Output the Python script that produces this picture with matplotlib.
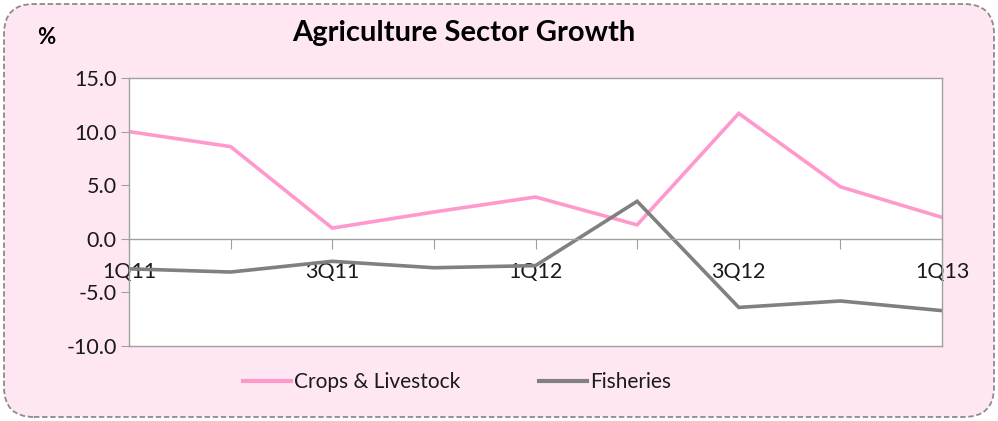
import matplotlib
matplotlib.use("Agg")
import matplotlib.pyplot as plt
from matplotlib.patches import FancyBboxPatch
from matplotlib.lines import Line2D

quarters = ["1Q11", "2Q11", "3Q11", "4Q11", "1Q12", "2Q12", "3Q12", "4Q12", "1Q13"]
tick_labels = ["1Q11", "", "3Q11", "", "1Q12", "", "3Q12", "", "1Q13"]
crops = [10.0, 8.6, 1.0, 2.5, 3.9, 1.3, 11.7, 4.85, 2.0]
fisheries = [-2.8, -3.1, -2.1, -2.7, -2.5, 3.5, -6.4, -5.8, -6.7]

plt.rcParams['font.family'] = ['Lato', 'DejaVu Sans']
W, H = 998, 421
fig = plt.figure(figsize=(W / 100, H / 100), dpi=100)
fig.patch.set_facecolor("white")

bg = FancyBboxPatch((4 / W, 4 / H), (W - 8) / W, (H - 8) / H,
                    boxstyle="round,pad=0,rounding_size=0.03",
                    transform=fig.transFigure, facecolor="#FEE7F3",
                    edgecolor="#8C8C8C", linestyle=(0, (3, 1.5)), linewidth=1.3,
                    mutation_aspect=W / H, zorder=-10)
fig.patches.append(bg)

ax = fig.add_axes([129 / W, 1 - 346 / H, (942 - 129) / W, (346 - 78) / H])
ax.set_zorder(5)
ax.set_facecolor("white")
for s in ax.spines.values():
    s.set_color("#A0A0A0")
    s.set_linewidth(1.0)
ax.spines["bottom"].set_position(("data", 0))

x = list(range(len(quarters)))
ax.plot(x, crops, color="#FF99CC", linewidth=2.6, solid_joinstyle="miter")
ax.plot(x, fisheries, color="#808080", linewidth=2.6, solid_joinstyle="miter")

ax.set_xlim(0, len(quarters) - 1)
ax.set_ylim(-10, 15)
ax.set_yticks([-10, -5, 0, 5, 10, 15])
ax.set_yticklabels([f"{v:.1f}" for v in [-10, -5, 0, 5, 10, 15]], fontsize=15.5, color="#1a1a1a")
ax.set_xticks(x)
ax.set_xticklabels(tick_labels, fontsize=15.5, color="#1a1a1a")

ax.tick_params(axis="y", direction="out", length=6, color="#A0A0A0", pad=3)
ax.tick_params(axis="x", direction="out", length=7, color="#A0A0A0", pad=10)

# bottom border of plot area
ax.axhline(-10, color="#A0A0A0", linewidth=1.0, clip_on=False)

fig.text(464 / W, 1 - 33 / H, "Agriculture Sector Growth", ha="center", va="center",
         fontsize=21, fontweight="bold", color="black")
fig.text(46 / W, 1 - 38 / H, "%", ha="center", va="center", fontsize=16,
         fontweight="bold", color="black")

handles = [Line2D([], [], color="#FF99CC", linewidth=3),
           Line2D([], [], color="#808080", linewidth=3)]
leg = fig.legend(handles, ["Crops & Livestock", "Fisheries"], loc="center",
                 bbox_to_anchor=(457 / W, 1 - 382 / H), ncol=2, frameon=False,
                 fontsize=15, handlelength=2.3, handletextpad=0.15, columnspacing=3.8)
for t in leg.get_texts():
    t.set_color("#1a1a1a")

fig.savefig("out.png", dpi=100, facecolor=fig.get_facecolor())
